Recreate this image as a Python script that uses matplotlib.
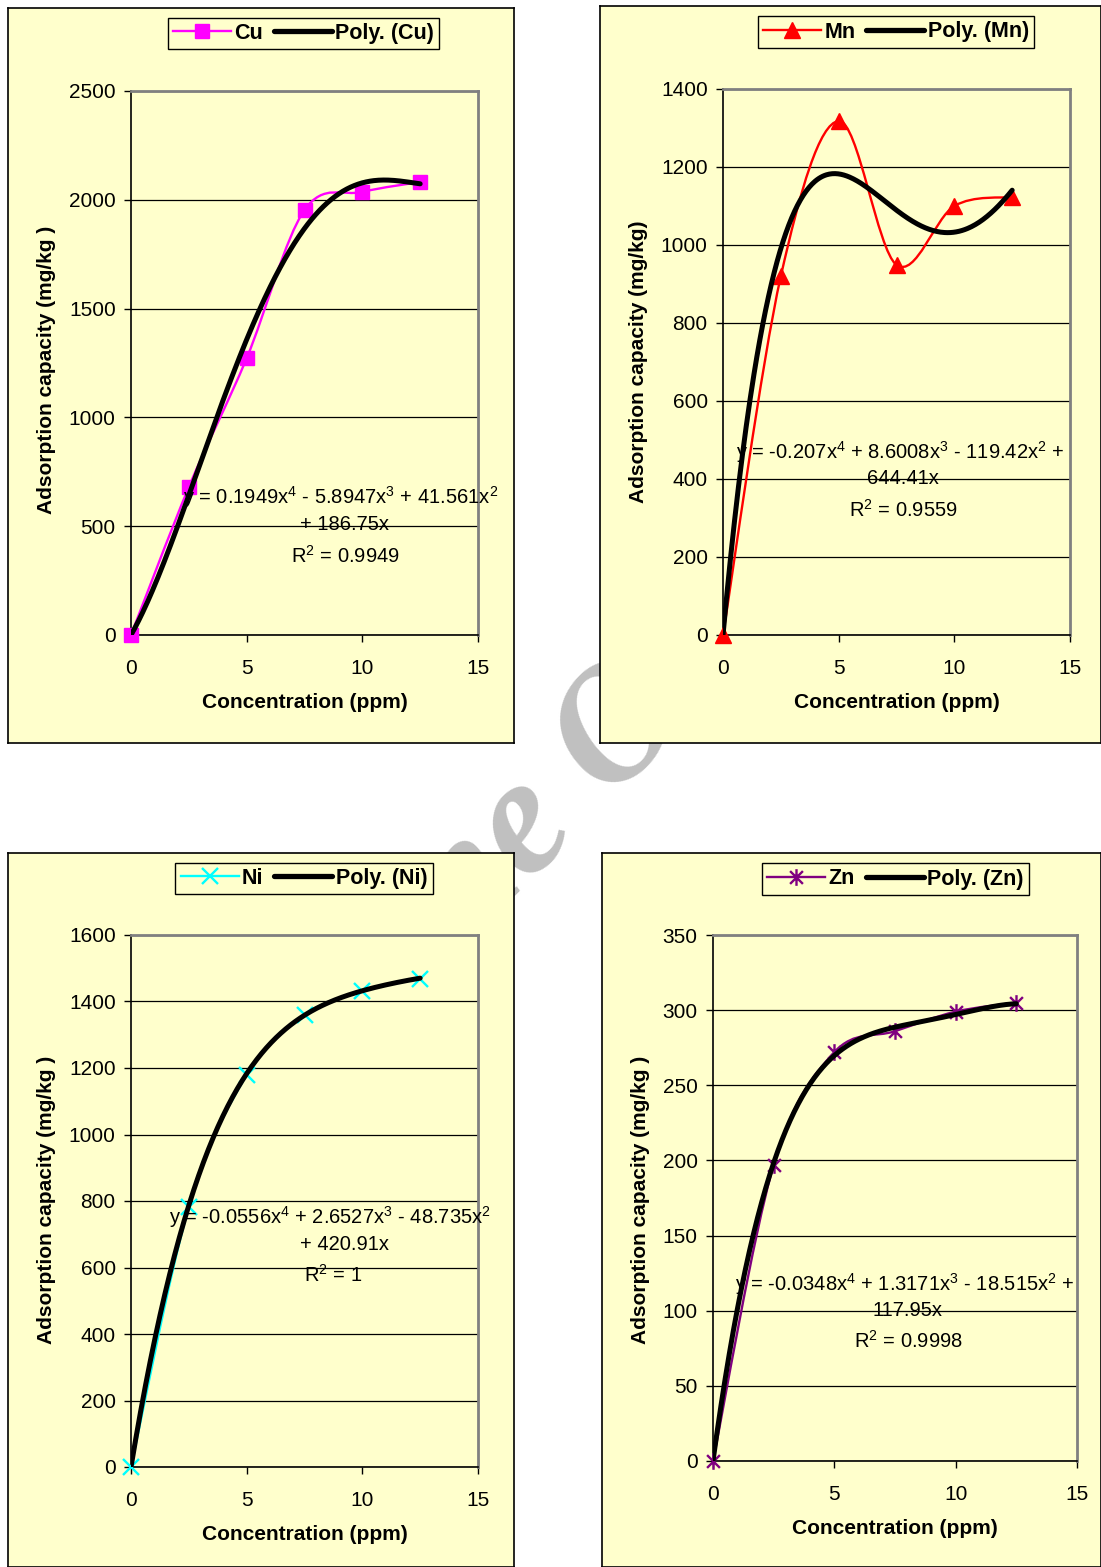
import numpy as np
import matplotlib
matplotlib.use("Agg")
import matplotlib.pyplot as plt
from matplotlib.path import Path
from matplotlib.patches import PathPatch
from matplotlib.lines import Line2D

plt.rcParams['font.family'] = ['Liberation Sans', 'DejaVu Sans']
plt.rcParams['mathtext.fontset'] = 'custom'
plt.rcParams['mathtext.rm'] = 'Liberation Sans'
plt.rcParams['mathtext.it'] = 'Liberation Sans:italic'
plt.rcParams['mathtext.bf'] = 'Liberation Sans:bold'

# ---------------- data ----------------
conc = [0, 2.5, 5, 7.5, 10, 12.5]

cu_vals = [0, 680, 1272, 1953, 2036, 2082]
mn_vals = [0, 920, 1318, 949, 1100, 1123]
ni_vals = [0, 782, 1179, 1359, 1432, 1468]
zn_vals = [0, 197, 272, 286, 299, 305]

cu_coef = [0.1949, -5.8947, 41.561, 186.75, 0]
mn_coef = [-0.207, 8.6008, -119.42, 644.41, 0]
ni_coef = [-0.0556, 2.6527, -48.735, 420.91, 0]
zn_coef = [-0.0348, 1.3171, -18.515, 117.95, 0]

cu_eq = ["y = 0.1949x$^{4}$ - 5.8947x$^{3}$ + 41.561x$^{2}$", "+ 186.75x", "R$^{2}$ = 0.9949"]
mn_eq = ["y = -0.207x$^{4}$ + 8.6008x$^{3}$ - 119.42x$^{2}$ +", "644.41x", "R$^{2}$ = 0.9559"]
ni_eq = ["y = -0.0556x$^{4}$ + 2.6527x$^{3}$ - 48.735x$^{2}$", "+ 420.91x", "R$^{2}$ = 1"]
zn_eq = ["y = -0.0348x$^{4}$ + 1.3171x$^{3}$ - 18.515x$^{2}$ +", "117.95x", "R$^{2}$ = 0.9998"]

x_ticks = [0, 5, 10, 15]
cu_yticks = [0, 500, 1000, 1500, 2000, 2500]
mn_yticks = [0, 200, 400, 600, 800, 1000, 1200, 1400]
ni_yticks = [0, 200, 400, 600, 800, 1000, 1200, 1400, 1600]
zn_yticks = [0, 50, 100, 150, 200, 250, 300, 350]

series_names = ["Cu", "Mn", "Ni", "Zn"]
xlabel = "Concentration (ppm)"
ylabels = ["Adsorption capacity (mg/kg )", "Adsorption capacity (mg/kg)",
           "Adsorption capacity (mg/kg )", "Adsorption capacity (mg/kg )"]

# ---------------- layout ----------------
W, H = 1101, 1567
fig = plt.figure(figsize=(W / 100, H / 100), dpi=100)
fig.patch.set_facecolor('white')
YEL = '#FFFFCC'


def fbox(x0, y0, x1, y1):
    return [x0 / W, 1 - y1 / H, (x1 - x0) / W, (y1 - y0) / H]


def fx(x):
    return x / W


def fy(y):
    return 1 - y / H


# watermark (behind the panels)
fig.text(fx(582), fy(772), "ne On", fontsize=120, color='#C0C0C0',
         family='Liberation Serif', style='italic', fontweight='bold', rotation=45,
         ha='center', va='center', zorder=-5)


def star_marker():
    verts = [(-1, -1), (1, 1), (-1, 1), (1, -1), (0, -1.3), (0, 1.3)]
    codes = [Path.MOVETO, Path.LINETO, Path.MOVETO, Path.LINETO, Path.MOVETO, Path.LINETO]
    return Path(verts, codes)


def smooth_path(xs, ys):
    pts = np.column_stack([xs, ys]).astype(float)
    n = len(pts)
    verts = [tuple(pts[0])]
    codes = [Path.MOVETO]
    for i in range(n - 1):
        p0 = pts[i - 1] if i > 0 else pts[i]
        p1 = pts[i]
        p2 = pts[i + 1]
        p3 = pts[i + 2] if i + 2 < n else pts[i + 1]
        c1 = p1 + (p2 - p0) / 6.0
        c2 = p2 - (p3 - p1) / 6.0
        verts += [tuple(c1), tuple(c2), tuple(p2)]
        codes += [Path.CURVE4] * 3
    return Path(verts, codes)


panels = [
    dict(outer=(8, 8, 514, 743), inner=(131, 91, 478, 635), vals=cu_vals, coef=cu_coef,
         color='#FF00FF', marker='s', ms=9.5, mew=1, yticks=cu_yticks, eq=cu_eq,
         eqpos=[(341, 497), (345, 525), (345, 556)], leg=(167, 16, 440, 51),
         xl=(305, 703), yl=(47, 370)),
    dict(outer=(600, 6, 1101, 743), inner=(723, 89, 1070, 635), vals=mn_vals, coef=mn_coef,
         color='#FF0000', marker='^', ms=11, mew=1, yticks=mn_yticks, eq=mn_eq,
         eqpos=[(900, 452), (903, 479), (903, 510)], leg=(757, 15, 1035, 49),
         xl=(897, 703), yl=(639, 362)),
    dict(outer=(8, 853, 514, 1567), inner=(131, 935, 478, 1467), vals=ni_vals, coef=ni_coef,
         color='#00FFFF', marker='x', ms=11, mew=1.7, yticks=ni_yticks, eq=ni_eq,
         eqpos=[(330, 1217), (345, 1245), (333, 1275)], leg=(175, 861, 433, 896),
         xl=(305, 1535), yl=(47, 1200)),
    dict(outer=(602, 853, 1101, 1567), inner=(713, 935, 1077, 1461), vals=zn_vals, coef=zn_coef,
         color='#800080', marker=star_marker(), ms=12, mew=1.7, yticks=zn_yticks, eq=zn_eq,
         eqpos=[(905, 1284), (908, 1311), (908, 1341)], leg=(760, 862, 1031, 896),
         xl=(895, 1528), yl=(641, 1200)),
]

for k, p in enumerate(panels):
    # chart area frame
    oa = fig.add_axes(fbox(*p['outer']), zorder=0)
    oa.set_facecolor(YEL)
    oa.set_xticks([])
    oa.set_yticks([])
    for s in oa.spines.values():
        s.set_color('black')
        s.set_linewidth(1.2)

    # plot area
    ax = fig.add_axes(fbox(*p['inner']), zorder=1)
    ax.set_facecolor(YEL)
    yt = p['yticks']
    ax.set_xlim(0, 15)
    ax.set_ylim(yt[0], yt[-1])
    ax.set_xticks(x_ticks)
    ax.set_yticks(yt)
    ax.tick_params(axis='both', direction='out', length=5, width=1, color='black',
                   labelsize=15)
    ax.tick_params(axis='y', pad=6)
    ax.tick_params(axis='x', pad=12)
    ax.yaxis.grid(True, color='black', linewidth=0.9)
    ax.set_axisbelow(True)
    for side in ['top', 'right']:
        ax.spines[side].set_color('#808080')
        ax.spines[side].set_linewidth(2)
    for side in ['left', 'bottom']:
        ax.spines[side].set_color('black')
        ax.spines[side].set_linewidth(1.2)

    # smoothed data line
    patch = PathPatch(smooth_path(conc, p['vals']), facecolor='none',
                      edgecolor=p['color'], linewidth=1.7, zorder=3)
    ax.add_patch(patch)
    # polynomial trendline
    xs = np.linspace(conc[0], conc[-1], 300)
    ax.plot(xs, np.polyval(p['coef'], xs), color='black', linewidth=3.6,
            solid_capstyle='round', zorder=4)
    # markers
    mfc = p['color']
    ax.plot(conc, p['vals'], linestyle='none', marker=p['marker'], markersize=p['ms'],
            markerfacecolor=mfc, markeredgecolor=p['color'], markeredgewidth=p['mew'],
            zorder=3.5, clip_on=False)

    # equation text
    for line, (tx, ty) in zip(p['eq'], p['eqpos']):
        fig.text(fx(tx), fy(ty), line, fontsize=14.5, ha='center', va='center',
                 color='black', zorder=10)

    # axis titles
    fig.text(fx(p['xl'][0]), fy(p['xl'][1]), xlabel, fontsize=15, fontweight='bold',
             ha='center', va='center', zorder=10)
    fig.text(fx(p['yl'][0]), fy(p['yl'][1]), ylabels[k], fontsize=15, fontweight='bold',
             ha='center', va='center', rotation=90, zorder=10)

    # legend
    h1 = Line2D([], [], color=p['color'], linewidth=1.7, marker=p['marker'],
                markersize=p['ms'], markerfacecolor=mfc, markeredgecolor=p['color'],
                markeredgewidth=p['mew'])
    h2 = Line2D([], [], color='black', linewidth=3.8, solid_capstyle='round')
    lx0, ly0, lx1, ly1 = p['leg']
    leg = ax.legend([h1, h2], [series_names[k], "Poly. (%s)" % series_names[k]],
                    loc='center', bbox_to_anchor=(fx((lx0 + lx1) / 2), fy((ly0 + ly1) / 2)),
                    bbox_transform=fig.transFigure, ncol=2, frameon=True, fancybox=False,
                    prop={'weight': 'bold', 'size': 15.5}, handlelength=2.7,
                    handletextpad=0.15, columnspacing=0.5, borderpad=0.25,
                    borderaxespad=0, framealpha=1)
    leg.get_frame().set_edgecolor('black')
    leg.get_frame().set_facecolor(YEL)
    leg.get_frame().set_linewidth(1)
    leg.set_zorder(20)

fig.savefig('out.png', dpi=100, facecolor='white')
